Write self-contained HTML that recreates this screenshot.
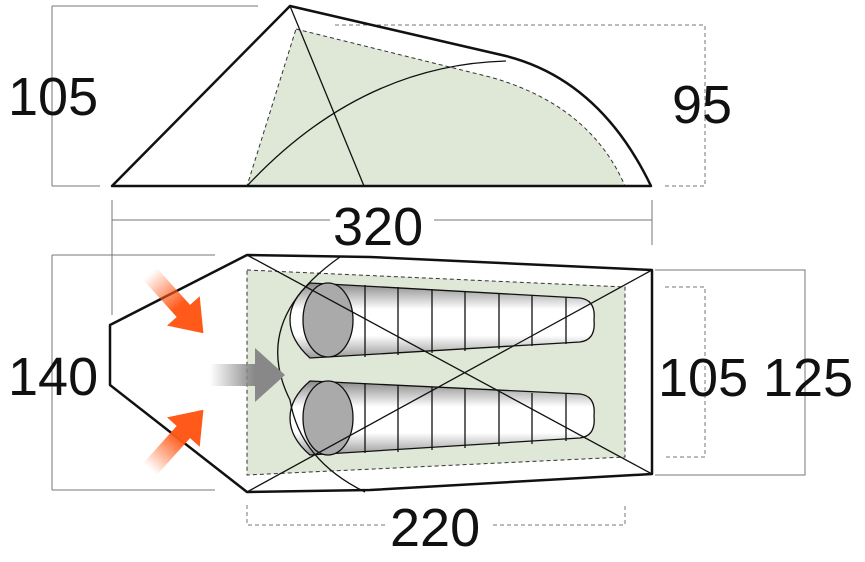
<!DOCTYPE html>
<html><head><meta charset="utf-8"><style>
html,body{margin:0;padding:0;background:#fff;}
svg{display:block;}
text{font-family:"Liberation Sans",sans-serif;font-size:54px;fill:#111;}
</style></head><body>
<svg width="865" height="562" viewBox="0 0 865 562" xmlns="http://www.w3.org/2000/svg">
<defs>
<linearGradient id="bag" x1="0" y1="0" x2="0" y2="1">
<stop offset="0" stop-color="#888"/><stop offset="0.35" stop-color="#fff"/><stop offset="0.7" stop-color="#fff"/><stop offset="1" stop-color="#999"/>
</linearGradient>
<linearGradient id="og" x1="0" y1="0" x2="1" y2="0"><stop offset="0" stop-color="#ff5a1a" stop-opacity="0"/><stop offset="0.55" stop-color="#ff5a1a"/></linearGradient>
<linearGradient id="gg" x1="0" y1="0" x2="1" y2="0"><stop offset="0" stop-color="#888" stop-opacity="0"/><stop offset="0.6" stop-color="#888"/></linearGradient>
</defs>
<g stroke="#777" stroke-width="1" fill="none">
<path d="M52 6H258M52 6V186M52 186H100"/>
<path d="M335 25H705V186H665" stroke-dasharray="4 3"/>
<path d="M112 200V315M652 200V245M112 220H652"/>
</g>
<text x="8" y="115">105</text>
<text x="672" y="123">95</text>
<rect x="330" y="198" width="104" height="50" fill="#fff"/>
<text x="333" y="245">320</text>
<path d="M296 29L490 77Q590 105 625 186H247Z" fill="#dfe7d6" stroke="#333" stroke-width="1" stroke-dasharray="4 3"/>
<path d="M247 186Q360 65 506 61" fill="none" stroke="#111" stroke-width="1.3"/>
<path d="M290 6L364 186" stroke="#111" stroke-width="1.3"/>
<path d="M112 186L290 6L506 56Q600 80 651 186Z" fill="none" stroke="#111" stroke-width="2.5" stroke-linejoin="round"/>
<g stroke="#777" stroke-width="1" fill="none">
<path d="M52 255H215M52 255V490M52 490H215"/>
<path d="M655 270H805V475H655"/>
<path d="M665 287H705V457H665" stroke-dasharray="4 3"/>
<path d="M247 505V525H625V505" stroke-dasharray="4 3"/>
</g>
<text x="8" y="395">140</text>
<text x="658" y="396">105</text>
<text x="763" y="396">125</text>
<rect x="386" y="500" width="104" height="50" fill="#fff"/>
<text x="390" y="546">220</text>
<path d="M247 270L625 287V457L247 475Z" fill="#dfe7d6" stroke="#333" stroke-width="1" stroke-dasharray="4 3"/>
<g stroke="#111" stroke-width="1.3">
<path d="M310 283L580 298Q596 300 594 320Q596 340 580 342L310 358Q290 340 290 320Q290 300 310 283Z" fill="url(#bag)"/>
<path d="M365 285V357M398 287V355M432 289V353M465 291V351M499 293V349M532 295V346M566 297V344" fill="none"/>
<ellipse cx="328" cy="320" rx="25" ry="37" fill="#aaa"/>
<path d="M310 381L580 394Q596 396 594 416Q596 436 580 438L310 455Q290 438 290 418Q290 398 310 381Z" fill="url(#bag)"/>
<path d="M365 383V453M398 385V452M432 387V450M465 389V448M499 391V446M532 393V444M566 394V441" fill="none"/>
<ellipse cx="328" cy="418" rx="25" ry="37" fill="#aaa"/>
</g>
<path d="M247 255L652 474M247 492L652 270" stroke="#111" stroke-width="1.3"/>
<path d="M340 257Q250 320 290 400Q300 460 365 492" fill="none" stroke="#111" stroke-width="1.3"/>
<path d="M247 255L370 257L652 270V474L370 490L247 492L110 385V325Z" fill="none" stroke="#111" stroke-width="2.5" stroke-linejoin="round"/>
<g transform="translate(178 305) rotate(48)">
<path d="M-42 -9H8V-22L38 0L8 22V9H-42Z" fill="url(#og)"/>
</g>
<g transform="translate(178 438) rotate(-48)">
<path d="M-42 -9H8V-22L38 0L8 22V9H-42Z" fill="url(#og)"/>
</g>
<path d="M210 364H255V348L285 375L255 402V386H210Z" fill="url(#gg)"/>
</svg>
</body></html>
